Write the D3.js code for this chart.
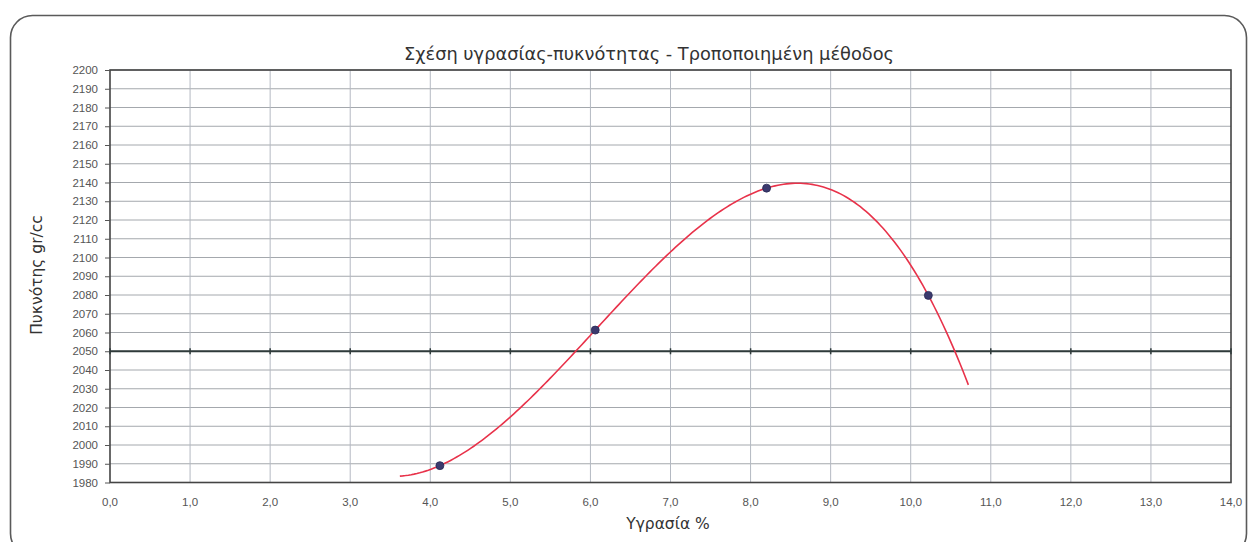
<!DOCTYPE html>
<html>
<head>
<meta charset="utf-8">
<script src="https://cdn.jsdelivr.net/npm/d3@7"></script>
<style>
  html, body { margin: 0; padding: 0; background: #fff; }
  svg { display: block; font-family: "Liberation Sans", Arial, sans-serif; }
</style>
</head>
<body>
<svg id="chart" width="1253" height="542"></svg>
<script>
// Measured samples: moisture (%) and dry density (gr/cc)
const moisture = [4.12, 6.06, 8.2, 10.22];
const density = [1989, 2061.3, 2137, 2079.8];

const xTicks = [0, 1, 2, 3, 4, 5, 6, 7, 8, 9, 10, 11, 12, 13, 14];
const yTicks = [1980, 1990, 2000, 2010, 2020, 2030, 2040, 2050, 2060, 2070, 2080, 2090,
                2100, 2110, 2120, 2130, 2140, 2150, 2160, 2170, 2180, 2190, 2200];

const titleText = "Σχέση υγρασίας-πυκνότητας - Τροποποιημένη μέθοδος";
const xTitle = "Υγρασία %";
const yTitle = "Πυκνότης gr/cc";

// Trendline settings: polynomial order and forecast extension on each side
const trendOrder = 3;
const trendExtend = 0.5;
const xCross = 2050;

const svg = d3.select("#chart");
const plot = { left: 110, right: 1231, top: 70, bottom: 482.5 };
const titleFont = "\"DejaVu Sans\", Verdana, sans-serif";

const x = d3.scaleLinear().domain([0, 14]).range([plot.left, plot.right]);
const y = d3.scaleLinear().domain([1980, 2200]).range([plot.bottom, plot.top]);

// Outer chart frame with rounded corners
svg.append("rect")
  .attr("x", 10.5).attr("y", 15.5)
  .attr("width", 1236).attr("height", 540)
  .attr("rx", 22).attr("ry", 22)
  .attr("fill", "#fff")
  .attr("stroke", "#5a5a5a").attr("stroke-width", 1.6);

// Horizontal gridlines
svg.append("g").selectAll("line").data(yTicks).join("line")
  .attr("x1", plot.left).attr("x2", plot.right)
  .attr("y1", d => y(d)).attr("y2", d => y(d))
  .attr("stroke", "#a4a8ad").attr("stroke-width", 1);

// Vertical gridlines
svg.append("g").selectAll("line").data(xTicks.slice(1, -1)).join("line")
  .attr("x1", d => x(d)).attr("x2", d => x(d))
  .attr("y1", plot.top).attr("y2", plot.bottom)
  .attr("stroke", "#b4b9c2").attr("stroke-width", 1);

// Plot border
svg.append("rect")
  .attr("x", plot.left).attr("y", plot.top)
  .attr("width", plot.right - plot.left).attr("height", plot.bottom - plot.top)
  .attr("fill", "none").attr("stroke", "#444").attr("stroke-width", 1.6);

// Y axis with outward ticks
const yAxis = d3.axisLeft(y).tickValues(yTicks).tickSize(5).tickPadding(7).tickFormat(d3.format("d"));
const gy = svg.append("g").attr("transform", `translate(${plot.left},0)`).call(yAxis);
gy.select(".domain").remove();
gy.selectAll(".tick line").attr("stroke", "#555");
gy.selectAll(".tick text").attr("fill", "#555").attr("font-size", 11.5)
  .attr("font-family", "\"Liberation Sans\", Arial, sans-serif");

// Horizontal axis line crossing at 2050, with tick marks
svg.append("line")
  .attr("x1", plot.left).attr("x2", plot.right)
  .attr("y1", y(xCross)).attr("y2", y(xCross))
  .attr("stroke", "#2f3b3b").attr("stroke-width", 2);
svg.append("g").selectAll("line").data(xTicks).join("line")
  .attr("x1", d => x(d)).attr("x2", d => x(d))
  .attr("y1", y(xCross) - 3).attr("y2", y(xCross) + 3)
  .attr("stroke", "#2f3b3b").attr("stroke-width", 1.5);

// X tick labels placed below the plot area
const fmtComma = d => d3.format(".1f")(d).replace(".", ",");
svg.append("g").selectAll("text").data(xTicks).join("text")
  .attr("x", d => x(d)).attr("y", 506)
  .attr("text-anchor", "middle")
  .attr("fill", "#555").attr("font-size", 11.5)
  .text(fmtComma);

// Least-squares polynomial fit
function polyFit(xs, ys, order) {
  const n = order + 1;
  const A = Array.from({ length: n }, () => new Array(n + 1).fill(0));
  for (let r = 0; r < n; r++) {
    for (let c = 0; c < n; c++) {
      A[r][c] = d3.sum(xs, v => Math.pow(v, r + c));
    }
    A[r][n] = d3.sum(xs, (v, i) => ys[i] * Math.pow(v, r));
  }
  for (let i = 0; i < n; i++) {
    let p = i;
    for (let k = i + 1; k < n; k++) if (Math.abs(A[k][i]) > Math.abs(A[p][i])) p = k;
    [A[i], A[p]] = [A[p], A[i]];
    for (let k = i + 1; k < n; k++) {
      const f = A[k][i] / A[i][i];
      for (let j = i; j <= n; j++) A[k][j] -= f * A[i][j];
    }
  }
  const coef = new Array(n).fill(0);
  for (let i = n - 1; i >= 0; i--) {
    let s = A[i][n];
    for (let j = i + 1; j < n; j++) s -= A[i][j] * coef[j];
    coef[i] = s / A[i][i];
  }
  return v => coef.reduce((acc, c, i) => acc + c * Math.pow(v, i), 0);
}

const trend = polyFit(moisture, density, trendOrder);
const t0 = d3.min(moisture) - trendExtend, t1 = d3.max(moisture) + trendExtend;
const trendPts = d3.range(0, 201).map(i => {
  const xv = t0 + (t1 - t0) * i / 200;
  return [xv, trend(xv)];
});

svg.append("path")
  .datum(trendPts)
  .attr("d", d3.line().x(d => x(d[0])).y(d => y(d[1])))
  .attr("fill", "none")
  .attr("stroke", "#e8324a").attr("stroke-width", 1.6);

// Measured points
svg.append("g").selectAll("circle").data(moisture).join("circle")
  .attr("cx", d => x(d)).attr("cy", (d, i) => y(density[i]))
  .attr("r", 4)
  .attr("fill", "#3b3a6e").attr("stroke", "#2a2a55").attr("stroke-width", 0.8);

// Titles
svg.append("text")
  .attr("x", 649).attr("y", 60)
  .attr("text-anchor", "middle")
  .attr("font-family", titleFont)
  .attr("fill", "#333").attr("font-size", 17.8)
  .text(titleText);

svg.append("text")
  .attr("x", 668).attr("y", 529)
  .attr("text-anchor", "middle")
  .attr("font-family", titleFont)
  .attr("fill", "#333").attr("font-size", 15.5)
  .text(xTitle);

svg.append("text")
  .attr("transform", `translate(42,275) rotate(-90)`)
  .attr("text-anchor", "middle")
  .attr("font-family", titleFont)
  .attr("fill", "#333").attr("font-size", 15.5)
  .text(yTitle);
</script>
</body>
</html>
